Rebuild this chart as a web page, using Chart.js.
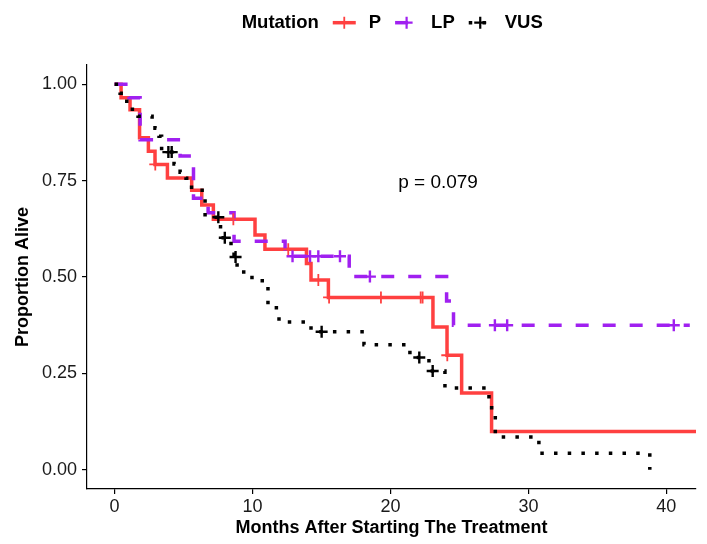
<!DOCTYPE html>
<html>
<head>
<meta charset="utf-8">
<script src="https://cdn.jsdelivr.net/npm/chart.js@4.4.1/dist/chart.umd.min.js"></script>
<style>
  html, body { margin: 0; padding: 0; background: #fff; }
</style>
</head>
<body>
<canvas id="km" width="707" height="544"></canvas>
<script>
// groups in the legend
var groups = ['P', 'LP', 'VUS'];

// Kaplan-Meier steps: time (months) of each drop and survival after it
var pTimes = [0, 0.47, 1.12, 1.81, 2.45, 2.93, 3.83, 5.59, 6.32, 7.16, 10.18, 10.9, 13.91, 14.24, 15.5, 23.08, 24.1, 25.16, 27.33, 42.2];
var pSurv  = [1, 0.965, 0.934, 0.861, 0.826, 0.792, 0.757, 0.725, 0.687, 0.650, 0.609, 0.572, 0.535, 0.492, 0.447, 0.370, 0.297, 0.199, 0.099, 0.099];

var lpTimes = [0, 1.05, 1.85, 4.75, 5.72, 6.78, 8.66, 12.36, 17.01, 24.07, 24.57, 41.7];
var lpSurv  = [1, 0.965, 0.856, 0.814, 0.704, 0.667, 0.593, 0.554, 0.501, 0.438, 0.375, 0.375];

var vusTimes = [0, 0.4, 0.69, 1.05, 1.7, 2.72, 2.93, 3.22, 3.41, 4.31, 4.75, 5.18, 5.58, 6.56, 7.68, 8.44, 8.66, 8.88, 9.96, 11.12, 11.92, 14.24, 18.08, 21.41, 22.79, 23.95, 27.14, 27.6, 30.76, 38.8];
var vusSurv  = [1, 0.977, 0.956, 0.935, 0.917, 0.902, 0.886, 0.865, 0.824, 0.793, 0.772, 0.756, 0.725, 0.655, 0.602, 0.578, 0.552, 0.513, 0.490, 0.420, 0.383, 0.358, 0.324, 0.291, 0.256, 0.212, 0.161, 0.085, 0.043, 0];

// censored observations (+ marks)
var pCensorTimes = [2.95, 8.61, 12.59, 14.77, 15.55, 19.31, 22.19, 22.33, 24.12];
var pCensorSurv  = [0.792, 0.650, 0.572, 0.492, 0.447, 0.447, 0.447, 0.447, 0.297];

var lpCensorTimes = [12.9, 14.17, 14.77, 16.34, 18.51, 27.57, 28.46, 40.54];
var lpCensorSurv  = [0.554, 0.554, 0.554, 0.554, 0.501, 0.375, 0.375, 0.375];

var vusCensorTimes = [3.9, 4.14, 7.52, 7.99, 8.77, 15.01, 22.09, 23.06];
var vusCensorSurv  = [0.824, 0.824, 0.655, 0.602, 0.552, 0.358, 0.291, 0.256];

var xTicks = [0, 10, 20, 30, 40];
var yTicks = [0, 0.25, 0.5, 0.75, 1];
var yTickLabels = ['0.00', '0.25', '0.50', '0.75', '1.00'];

var pValueText = 'p = 0.079';
var pValueX = 23.45, pValueY = 0.745;

var fam = '"Liberation Sans", Arial, Helvetica, sans-serif';
var colors = { P: '#ff4040', LP: '#a020f0', VUS: '#000000' };
var dashes = { P: [], LP: [13, 14], VUS: [3.5, 10.2] };

function pts(t, s) {
  return t.map(function (v, i) { return { x: v, y: s[i] }; });
}

// 'before' in chart.js = run flat at the old level, then drop at the new time
function curve(name, t, s, order) {
  return {
    label: name,
    data: pts(t, s),
    borderColor: colors[name],
    borderWidth: 3.5,
    borderDash: dashes[name],
    borderCapStyle: 'butt',
    stepped: 'before',
    fill: false,
    pointRadius: 0,
    pointHitRadius: 0,
    order: order
  };
}

function censor(name, t, s, w) {
  return {
    label: name + ' censor',
    data: pts(t, s),
    showLine: false,
    pointStyle: 'cross',
    pointRadius: 6,
    pointBorderWidth: w,
    pointBorderColor: colors[name],
    order: 0
  };
}

// legend drawn like the ggplot one: title, then key + label for every group
var kmLegend = {
  id: 'kmLegend',
  afterDraw: function (chart) {
    var ctx = chart.ctx;
    var y = 22.7;
    var x = 241.7;
    ctx.save();
    ctx.font = 'bold 18.5px ' + fam;
    ctx.textBaseline = 'middle';
    ctx.fillStyle = '#000';
    ctx.fillText('Mutation', x, y);
    x += ctx.measureText('Mutation').width + 14;
    groups.forEach(function (g) {
      var kw = 23;
      ctx.save();
      ctx.strokeStyle = colors[g];
      ctx.lineWidth = 3.5;
      ctx.lineCap = 'butt';
      ctx.setLineDash(dashes[g]);
      ctx.beginPath();
      ctx.moveTo(x, y);
      ctx.lineTo(x + kw, y);
      ctx.stroke();
      ctx.setLineDash([]);
      ctx.lineWidth = g === 'P' ? 1.8 : 2.2;
      var cx = x + kw / 2;
      ctx.beginPath();
      ctx.moveTo(cx - 6, y); ctx.lineTo(cx + 6, y);
      ctx.moveTo(cx, y - 6); ctx.lineTo(cx, y + 6);
      ctx.stroke();
      ctx.restore();
      x += kw + 13;
      ctx.fillText(g, x, y);
      x += ctx.measureText(g).width + 14;
    });
    ctx.restore();
  }
};

var pLabel = {
  id: 'pLabel',
  afterDatasetsDraw: function (chart) {
    var ctx = chart.ctx;
    var xs = chart.scales.x, ys = chart.scales.y;
    ctx.save();
    ctx.font = '19px ' + fam;
    ctx.fillStyle = '#000';
    ctx.textAlign = 'center';
    ctx.textBaseline = 'middle';
    ctx.fillText(pValueText, xs.getPixelForValue(pValueX), ys.getPixelForValue(pValueY));
    ctx.restore();
  }
};

var ctx = document.getElementById('km').getContext('2d');
window.kmChart = new Chart(ctx, {
  type: 'line',
  data: {
    datasets: [
      curve('P', pTimes, pSurv, 3),
      curve('LP', lpTimes, lpSurv, 2),
      curve('VUS', vusTimes, vusSurv, 1),
      censor('P', pCensorTimes, pCensorSurv, 1.8),
      censor('LP', lpCensorTimes, lpCensorSurv, 2.4),
      censor('VUS', vusCensorTimes, vusCensorSurv, 2.4)
    ]
  },
  options: {
    responsive: false,
    animation: false,
    layout: { padding: { top: 65, right: 11, bottom: 0, left: 0 } },
    plugins: {
      legend: { display: false },
      tooltip: { enabled: false }
    },
    scales: {
      x: {
        type: 'linear',
        min: -2,
        max: 42.15,
        afterBuildTicks: function (s) { s.ticks = xTicks.map(function (v) { return { value: v }; }); },
        afterFit: function (s) { s.height = 55; },
        ticks: {
          color: '#1a1a1a',
          font: { family: fam, size: 18 },
          padding: 2,
          maxRotation: 0,
          callback: function (v) { return String(v); }
        },
        grid: { drawOnChartArea: false, drawTicks: true, tickLength: 5, color: '#000', lineWidth: 1.2 },
        border: { display: true, color: '#000', width: 1.2 },
        title: {
          display: true,
          text: 'Months After Starting The Treatment',
          color: '#000',
          font: { family: fam, size: 18, weight: 'bold' },
          padding: { top: 0, bottom: 5 }
        }
      },
      y: {
        min: -0.05,
        max: 1.05,
        afterBuildTicks: function (s) { s.ticks = yTicks.map(function (v) { return { value: v }; }); },
        afterFit: function (s) { s.width = 87; },
        ticks: {
          color: '#1a1a1a',
          font: { family: fam, size: 18 },
          padding: 5,
          callback: function (v, i) { return yTickLabels[i]; }
        },
        grid: { drawOnChartArea: false, drawTicks: true, tickLength: 5, color: '#000', lineWidth: 1.2 },
        border: { display: true, color: '#000', width: 1.2 },
        title: {
          display: true,
          text: 'Proportion Alive',
          color: '#000',
          font: { family: fam, size: 18, weight: 'bold' },
          padding: { top: 12, bottom: 0 }
        }
      }
    }
  },
  plugins: [kmLegend, pLabel]
});
</script>
</body>
</html>
